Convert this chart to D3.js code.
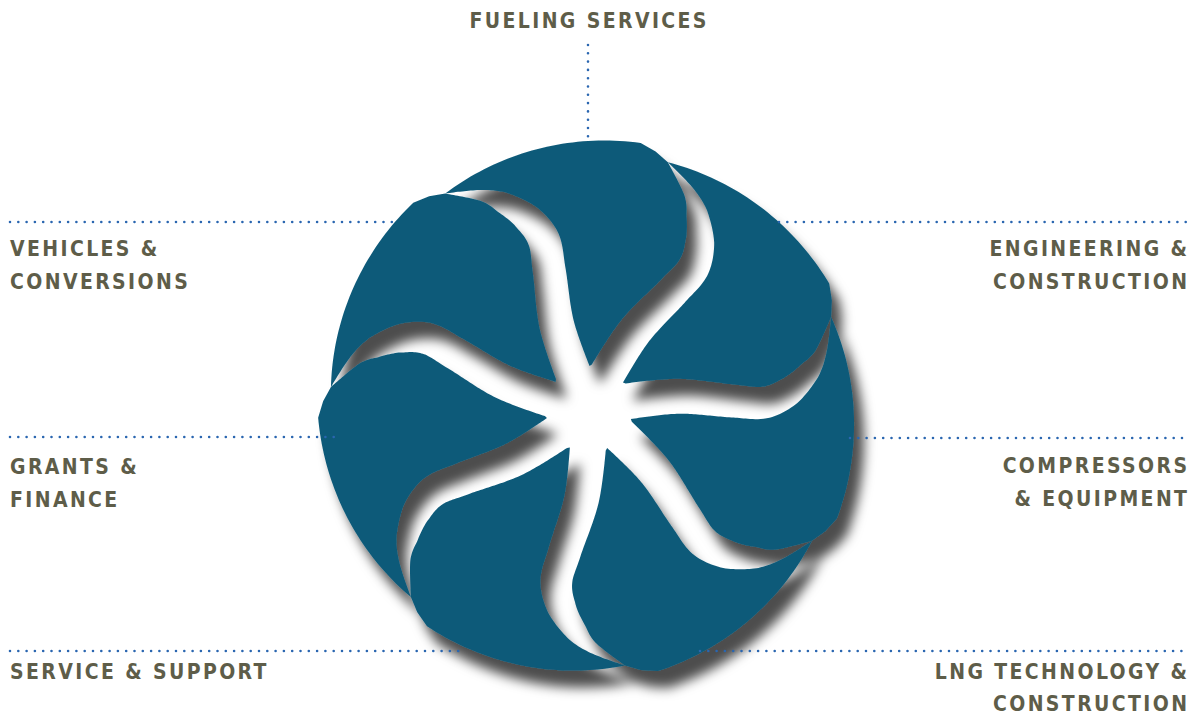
<!DOCTYPE html>
<html>
<head>
<meta charset="utf-8">
<script src="https://cdn.jsdelivr.net/npm/d3@7"></script>
<style>
  body { margin: 0; background: #fff; }
  .label {
    font-family: "Liberation Sans Narrow", "DejaVu Sans Condensed", "Open Sans", sans-serif;
    font-weight: bold;
    font-size: 21px;
    fill: #5e5d49;
  }
  .leader { fill: none; stroke: #2a66b0; stroke-width: 2.6; stroke-linecap: round; stroke-dasharray: 0 8.3; }
</style>
</head>
<body>
<svg width="1195" height="715"></svg>
<script>
// services, clockwise from the top
var services = ["FUELING SERVICES", "ENGINEERING & CONSTRUCTION", "COMPRESSORS & EQUIPMENT",
                "LNG TECHNOLOGY & CONSTRUCTION", "SERVICE & SUPPORT", "GRANTS & FINANCE",
                "VEHICLES & CONVERSIONS"];
var labelLines = [["FUELING SERVICES"], ["ENGINEERING &", "CONSTRUCTION"], ["COMPRESSORS", "& EQUIPMENT"],
                  ["LNG TECHNOLOGY &", "CONSTRUCTION"], ["SERVICE & SUPPORT"], ["GRANTS &", "FINANCE"],
                  ["VEHICLES &", "CONVERSIONS"]];

// shape of one gap between two blades (angle clockwise from up, radius, width)
var gapTheta  = [-24, -21, -16, -15, -17.8, -22.8, -26.2, -33.7];
var gapRadius = [40, 90, 145, 176, 200, 224.5, 237.5, 259];
var gapWidth  = [36, 35, 33, 32, 29, 21, 12, 0];

// label placement
var callouts = [
  {anchor: "middle", x: 588,  y: [28],       line: [[588, 45], [588, 140]]},
  {anchor: "end",    x: 1187, y: [256, 289], line: [[779, 222], [1187, 222]]},
  {anchor: "end",    x: 1187, y: [473, 506], line: [[850, 438], [1187, 438]]},
  {anchor: "end",    x: 1187, y: [679, 711], line: [[700, 651], [1187, 651]]},
  {anchor: "start",  x: 10,   y: [679],      line: [[10, 651], [463, 651]]},
  {anchor: "start",  x: 10,   y: [474, 507], line: [[10, 437], [338, 437]]},
  {anchor: "start",  x: 10,   y: [256, 289], line: [[10, 222], [392, 222]]}
];

var svg = d3.select("svg"),
    cx = 589, cy = 409,
    step = 360 / services.length;

var defs = svg.append("defs");
var f = defs.append("filter").attr("id", "shadow")
    .attr("x", "-10%").attr("y", "-10%").attr("width", "130%").attr("height", "130%");
f.append("feGaussianBlur").attr("in", "SourceAlpha").attr("stdDeviation", 6);
f.append("feOffset").attr("dx", 10).attr("dy", 17).attr("result", "blur");
f.append("feFlood").attr("flood-color", "#000").attr("flood-opacity", 0.7);
f.append("feComposite").attr("in2", "blur").attr("operator", "in");
var merge = f.append("feMerge");
merge.append("feMergeNode");
merge.append("feMergeNode").attr("in", "SourceGraphic");

function pt(theta, r) {
  var a = theta * Math.PI / 180;
  return [r * Math.sin(a), -r * Math.cos(a)];
}
function rot(p, deg) {
  var a = deg * Math.PI / 180, c = Math.cos(a), s = Math.sin(a);
  return [p[0] * c - p[1] * s, p[0] * s + p[1] * c];
}

// sample the gap centre line and offset both sides
var ctrl = gapTheta.map(function(t, k) { return pt(t, gapRadius[k]); });
var tmp = svg.append("path").attr("d", d3.line().curve(d3.curveCatmullRom.alpha(0.5))(ctrl));
var node = tmp.node(), len = node.getTotalLength(), N = 120;
var samples = d3.range(N + 1).map(function(k) {
  var p = node.getPointAtLength(len * k / N);
  return [p.x, p.y];
});
tmp.remove();

var wScale = d3.scaleLinear().domain(gapRadius).range(gapWidth).clamp(true);
var cwSide = [], ccwSide = [];
samples.forEach(function(p, k) {
  var a = samples[Math.max(0, k - 1)], b = samples[Math.min(N, k + 1)];
  var tx = b[0] - a[0], ty = b[1] - a[1], tl = Math.hypot(tx, ty);
  var nx = -ty / tl, ny = tx / tl;
  var h = wScale(Math.hypot(p[0], p[1])) / 2;
  cwSide.push([p[0] + nx * h, p[1] + ny * h]);
  ccwSide.push([p[0] - nx * h, p[1] - ny * h]);
});

// outer rim of a blade: from the gap end to the tip, slightly spiralling out
var rimTheta = d3.scaleLinear().domain([0, 1]).range([gapTheta[gapTheta.length - 1], 11]);
var rimRadius = d3.scaleLinear().domain([0, 1]).range([gapRadius[gapRadius.length - 1], 271]);
var rim = d3.range(41).map(function(k) { return pt(rimTheta(k / 40), rimRadius(k / 40)); });
rim.push(pt(14.5, 266));

var blade = cwSide.concat(rim, ccwSide.map(function(p) { return rot(p, step); }).reverse());

var pie = d3.pie().value(1).sort(null);

var wheel = svg.append("g")
    .attr("transform", "translate(" + cx + "," + cy + ")")
    .attr("filter", "url(#shadow)");

wheel.selectAll(".blade")
    .data(pie(services))
  .enter().append("path")
    .attr("class", "blade")
    .attr("d", d3.line()(blade) + "Z")
    .attr("transform", function(d) { return "rotate(" + (d.startAngle * 180 / Math.PI) + ")"; })
    .style("fill", "#0e5a79");

// leaders
svg.selectAll(".leader")
    .data(callouts)
  .enter().append("path")
    .attr("class", "leader")
    .attr("d", function(d) { return d3.line()(d.line); });

// letter spacing so that the lettering keeps the wide tracking of the original
var probe = svg.append("text").attr("class", "label").text("CONSTRUCTION");
var ls = (194 - probe.node().getComputedTextLength()) / 11;
probe.remove();

var labels = svg.selectAll(".callout")
    .data(callouts)
  .enter().append("text")
    .attr("class", "label")
    .attr("text-anchor", function(d) { return d.anchor; })
    .style("letter-spacing", ls + "px");

labels.selectAll("tspan")
    .data(function(d, i) {
      return labelLines[i].map(function(t, k) { return {text: t, d: d, k: k}; });
    })
  .enter().append("tspan")
    .attr("x", function(o) {
      var shift = o.d.anchor == "end" ? ls : o.d.anchor == "middle" ? ls / 2 : 0;
      return o.d.x + shift;
    })
    .attr("y", function(o) { return o.d.y[o.k]; })
    .text(function(o) { return o.text; });
</script>
</body>
</html>
